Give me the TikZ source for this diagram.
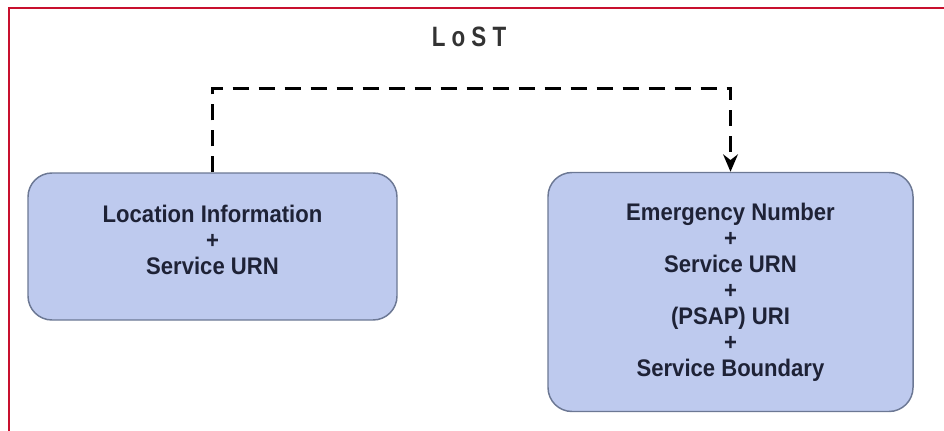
\documentclass[tikz,border=0pt]{standalone}
\usepackage{fontspec}
\setmainfont{Liberation Sans}
\newfontfamily\boxfont[FakeStretch=0.92,BoldFont={Liberation Sans Bold}]{Liberation Sans}
\newfontfamily\lostfont[FakeStretch=0.8,LetterSpace=22,BoldFont={Liberation Sans Bold}]{Liberation Sans}
\usetikzlibrary{arrows.meta}

\definecolor{frame}{HTML}{C8102E}
\definecolor{boxfill}{HTML}{BECAEE}
\definecolor{boxline}{HTML}{6C7894}
\definecolor{boxtext}{HTML}{1E2236}

\tikzset{
  infobox/.style={draw=boxline, line width=1.1pt, fill=boxfill, rounded corners=18pt,
    align=center, text=boxtext, font=\boxfont\bfseries\fontsize{18}{19.5}\selectfont, inner sep=0pt},
  lostline/.style={line width=2.2pt, dash pattern=on 12pt off 7.5pt, -{Stealth[length=13pt,width=11pt]}}
}

\begin{document}
\begin{tikzpicture}[x=0.75pt,y=-0.75pt]
\useasboundingbox (0,0) rectangle (944,431);

% frame
\draw[frame, line width=1.5pt] (9,431) -- (9,8) -- (944,8);

\node[text=black!80, font=\lostfont\bfseries\fontsize{21}{23}\selectfont] (lost) at (469,37) {LoST};

\node[infobox, minimum width=276.75pt, minimum height=110.25pt, text depth=9.75pt] (loc) at (212.5,246.5)
  {Location Information\\+\\Service URN};
\node[infobox, minimum width=273.75pt, minimum height=179.25pt] (emg) at (730.5,292)
  {Emergency Number\\+\\Service URN\\+\\(PSAP) URI\\+\\Service Boundary};

\draw[lostline] (loc.north) -- ++(0,-84) -| (emg.north);

\end{tikzpicture}
\end{document}
